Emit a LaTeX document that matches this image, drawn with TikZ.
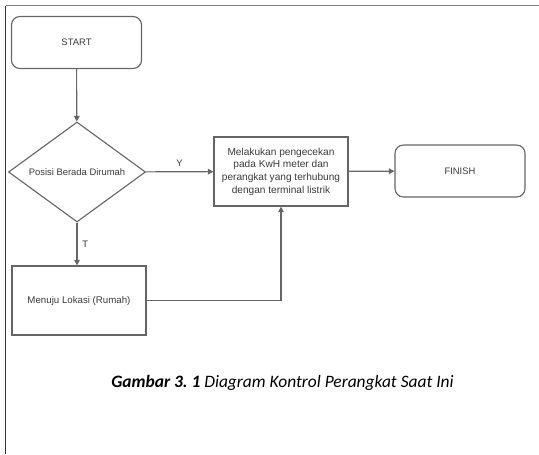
\documentclass[tikz,border=0pt]{standalone}
\usepackage{fontspec}
\setmainfont{Liberation Sans}
\newfontfamily\capfont{Carlito}
\usetikzlibrary{shapes.geometric,arrows.meta}

\definecolor{linegray}{HTML}{666666}
\definecolor{textgray}{HTML}{3A3A3A}

\tikzset{
  terminal/.style={draw=linegray,line width=0.8pt,rounded corners=6pt,
    minimum width=3.25cm,minimum height=1.3cm,text=textgray,
    font=\fontsize{6.7}{8}\selectfont},
  process/.style={draw=linegray,line width=0.8pt,
    minimum width=3.35cm,minimum height=1.725cm,text=textgray,align=center,
    font=\fontsize{7.2}{9}\selectfont},
  decision/.style={diamond,draw=linegray,line width=0.8pt,aspect=1.37,inner sep=0pt,
    minimum width=3.425cm,minimum height=2.5cm,text=textgray,
    font=\fontsize{6.7}{8}\selectfont},
  flow/.style={draw=linegray,line width=0.8pt,-{Triangle[length=4pt,width=4pt]}},
  lbl/.style={text=textgray,font=\fontsize{6.7}{8}\selectfont}
}

\begin{document}
\begin{tikzpicture}[x=0.025cm,y=-0.025cm]
\useasboundingbox (0,0) rectangle (539,454);
% frame
\draw[line width=1.3pt,color=gray] (5.5,5.5) -- (539,5.5);
\draw[line width=1.3pt,color=black!80] (5.5,5.5) -- (5.5,454);

\node[terminal] (start) at (76.5,42.5) {START};
\node[decision] (cek) at (77,172) {Posisi Berada Dirumah};
\node[process] (proses) at (281,171.5) {Melakukan pengecekan\\pada KwH meter dan\\perangkat yang terhubung\\dengan terminal listrik};
\node[terminal] (finish) at (460,171) {FINISH};
\node[process,font=\fontsize{6.9}{8}\selectfont] (menuju) at (79,300.5) {Menuju Lokasi (Rumah)};

\draw[flow] (start) -- (cek);
\draw[flow] (cek) -- node[lbl,above] {Y} (proses);
\draw[flow] (proses) -- (finish);
\draw[flow] (cek.south) -- node[lbl,right] {T} (cek.south |- menuju.north);
\draw[flow] (menuju) -| (proses);

\node[font=\capfont\fontsize{12.4}{14}\selectfont\itshape] (caption) at (282.5,383)
  {\textbf{Gambar 3.\ 1} Diagram Kontrol Perangkat Saat Ini};
\end{tikzpicture}
\end{document}
